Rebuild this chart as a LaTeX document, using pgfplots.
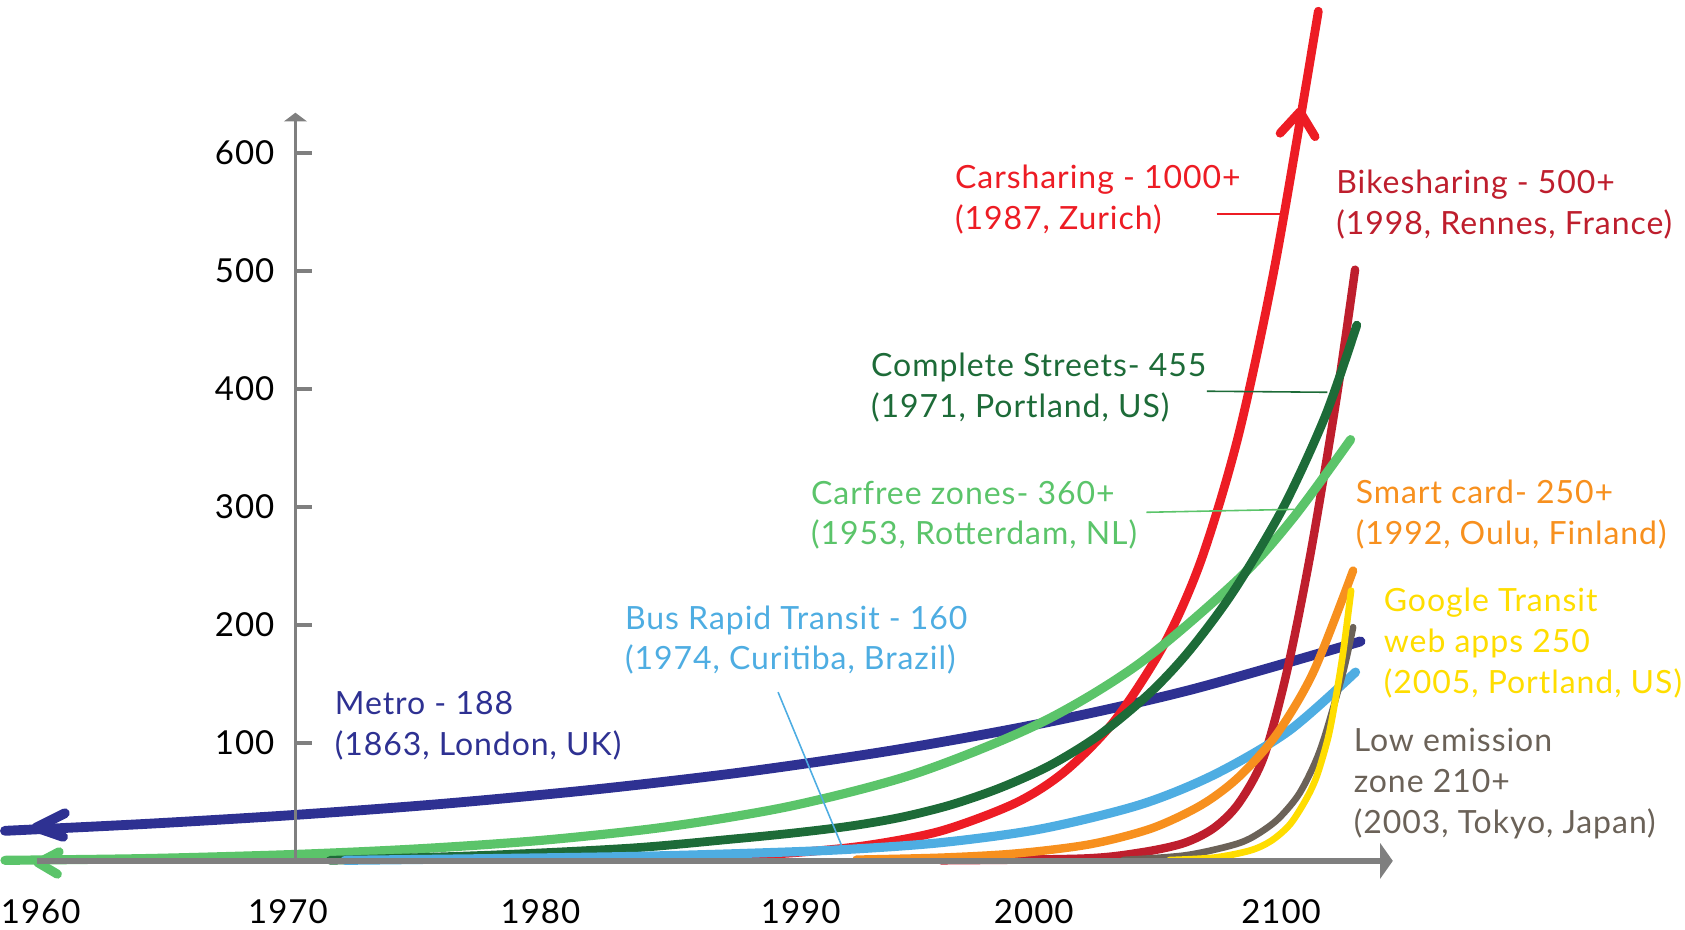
\documentclass[border=0pt]{standalone}
\usepackage{pgfplots}
\pgfplotsset{compat=1.18}
\usepackage{fontspec}
\setmainfont{Lato}[LetterSpace=3]
\usetikzlibrary{arrows.meta}

\definecolor{metro}{HTML}{2E3192}
\definecolor{carfree}{HTML}{5BC46A}
\definecolor{complete}{HTML}{1D6B38}
\definecolor{carshare}{HTML}{ED1C24}
\definecolor{bikeshare}{HTML}{BE1E2D}
\definecolor{brt}{HTML}{4EADE2}
\definecolor{smart}{HTML}{F7901E}
\definecolor{google}{HTML}{FFDD00}
\definecolor{lowem}{HTML}{6B6258}
\definecolor{axisgray}{HTML}{7F7F7F}

\newcommand{\lab}{\fontsize{9.1}{11.6}\selectfont}

\begin{document}
\begin{tikzpicture}
\begin{axis}[
  width=13.554cm, height=7.481cm, scale only axis,
  xmin=-10.4, xmax=44.2, ymin=0, ymax=634,
  enlargelimits=false,
  axis lines=middle,
  axis on top,
  clip=false,
  hide obscured x ticks=false,
  xtick={-10.26,-0.3,9.87,20.35,29.74,39.7},
  xticklabels={1960,1970,1980,1990,2000,2100},
  ytick={100,200,300,400,500,600},
  x axis line style={draw=axisgray, line width=1.8pt, -{Triangle[length=3.6pt,width=10pt]}},
  y axis line style={draw=axisgray, line width=1.1pt, -{Triangle[length=2.5pt,width=6.5pt]}},
  xtick style={draw=none},
  ytick style={draw=axisgray, line width=1pt},
  major tick length=4.8pt,
  tick align=inside,
  tick label style={font=\fontsize{9.4}{11}\selectfont, text=black, inner sep=0pt},
  /pgf/number format/assume math mode=true,
  xticklabel style={yshift=-10.9pt},
  yticklabel style={xshift=-5.8pt},
  every axis plot/.append style={line cap=round, line join=round},
]

% frame of the whole picture
\path (axis cs:-11.9,-58.3) rectangle (axis cs:55.97,729.5);

% Metro
\addplot[metro, line width=2.8pt, smooth] coordinates {
  (-11.7,25.5) (-6,31.4) (0,39) (6,48.5) (12,60.4) (18,75.1) (24,93.5) (30,116.3) (36,144.7) (42.9,186)
};
\addplot[metro, line width=2.8pt] coordinates {(-9.29,40.4) (-10.44,28.3) (-9.36,20.4)};
% Carsharing
\addplot[carshare, line width=2.5pt, smooth] coordinates {
  (17,3.5) (20,6.8) (23,13.1) (26,25.4) (29,49) (31,76) (33,119) (35,184) (36.5,256) (38,362) (39.5,510) (41.2,720)
};
\addplot[carshare, line width=2.5pt] coordinates {(39.66,616.6) (40.46,634.9) (41.07,613.7)};
% Bikesharing
\addplot[bikeshare, line width=2.4pt, smooth] coordinates {
  (26,0.5) (31.7,2) (34,7) (35.77,15) (37,28) (38,49) (39,88) (39.93,160) (40.9,262) (41.94,393) (42.68,501)
};
% Carfree zones
\addplot[carfree, line width=2.6pt, smooth] coordinates {
  (-11.7,0.5) (-6,2) (0,5.5) (5,10.3) (10,17.6) (15,29) (20,46.7) (25,74.2) (30,116.8) (34,167.4) (38,239.2) (40.2,291) (42.5,357)
};
\addplot[carfree, line width=2.6pt] coordinates {(-9.52,7.7) (-10.36,-1.6) (-9.59,-11.2)};
% Complete Streets
\addplot[complete, line width=2.5pt, smooth] coordinates {
  (1.4,0.5) (8,5) (13.6,11) (17.6,18.5) (20,23.5) (22.34,29.5) (24.4,37) (26.4,47.5) (28.4,62) (30.4,81) (32.4,107) (34.4,142) (36,178) (37.8,229) (39.8,300) (41.5,378) (42.75,454)
};
% Bus Rapid Transit
\addplot[brt, line width=2.6pt, smooth] coordinates {
  (2,0.5) (8,2) (13.6,3.8) (18,6.3) (22,9.5) (26,15.5) (30,27) (34,47.5) (37,73) (40,110) (42.7,160)
};
% Smart card
\addplot[smart, line width=2.4pt, smooth] coordinates {
  (22.6,1.1) (26,2.8) (29,6.3) (32,14.1) (34.5,27.7) (36.5,47.5) (38,71.2) (39.5,106.7) (41,160) (42.6,246)
};
% Low emission zone
\addplot[lowem, line width=1.9pt, smooth] coordinates {
  (33.35,0.8) (35.77,4.5) (37.5,12) (38.45,19) (39.5,34) (40.37,55) (41,80) (41.45,105) (42.2,160) (42.6,198)
};
% Google Transit
\addplot[google, line width=1.9pt, smooth] coordinates {
  (35.2,0.7) (37,2.8) (38.45,8.8) (39.3,17) (40.06,31) (40.7,52) (41.14,72) (41.6,105) (41.9,138) (42.2,177) (42.52,229)
};

% leader lines
\draw[carshare, line width=0.45pt] (axis cs:37.1,548.3) -- (axis cs:39.65,548.3);
\draw[complete, line width=0.45pt] (axis cs:36.71,398) -- (axis cs:41.56,397.1);
\draw[carfree, line width=0.45pt] (axis cs:34.27,295.4) -- (axis cs:40.22,297.9);
\draw[brt, line width=0.45pt] (axis cs:19.44,143) -- (axis cs:22.03,11.4);

% labels
\node[anchor=west, inner sep=0pt, align=left, text=carshare, font=\lab] at (axis cs:26.54,560.6) {Carsharing - 1000+\\(1987, Zurich)};
\node[anchor=west, inner sep=0pt, align=left, text=bikeshare, font=\lab] at (axis cs:41.9,556.1) {Bikesharing - 500+\\(1998, Rennes, France)};
\node[anchor=west, inner sep=0pt, align=left, text=complete, font=\lab] at (axis cs:23.16,401.3) {Complete Streets- 455\\(1971, Portland, US)};
\node[anchor=west, inner sep=0pt, align=left, text=carfree, font=\lab] at (axis cs:20.74,292.9) {Carfree zones- 360+\\(1953, Rotterdam, NL)};
\node[anchor=west, inner sep=0pt, align=left, text=smart, font=\lab] at (axis cs:42.68,293.8) {Smart card- 250+\\(1992, Oulu, Finland)};
\node[anchor=west, inner sep=0pt, align=left, text=google, font=\lab] at (axis cs:43.81,184.5) {Google Transit\\web apps 250\\(2005, Portland, US)};
\node[anchor=west, inner sep=0pt, align=left, text=lowem, font=\lab] at (axis cs:42.6,65.7) {Low emission\\zone 210+\\(2003, Tokyo, Japan)};
\node[anchor=west, inner sep=0pt, align=left, text=brt, font=\lab] at (axis cs:13.25,187.2) {Bus Rapid Transit - 160\\(1974, Curitiba, Brazil)};
\node[anchor=west, inner sep=0pt, align=left, text=metro, font=\lab] at (axis cs:1.56,114.4) {Metro - 188\\(1863, London, UK)};
\end{axis}
\end{tikzpicture}
\end{document}
